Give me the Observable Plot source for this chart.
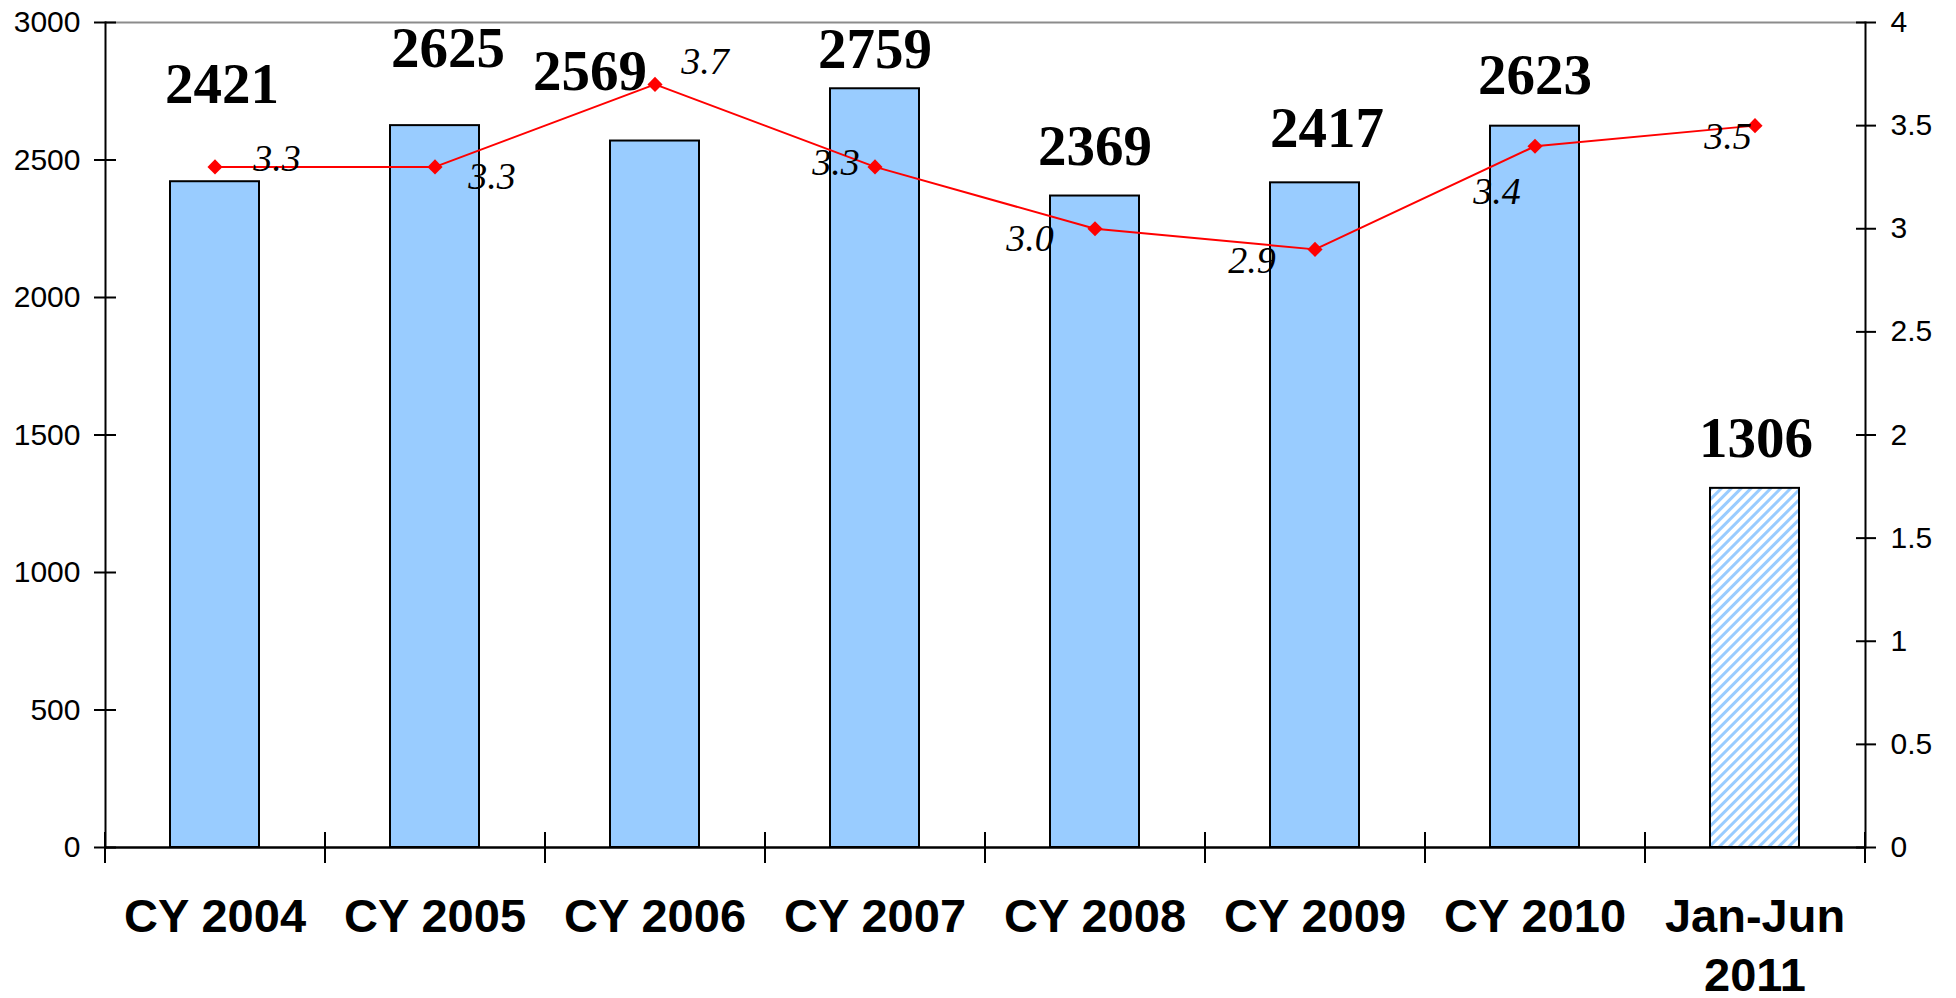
<!DOCTYPE html>
<html>
<head>
<meta charset="utf-8">
<script src="https://cdn.jsdelivr.net/npm/d3@7"></script>
<script src="https://cdn.jsdelivr.net/npm/@observablehq/plot@0.6"></script>
<style>
  html, body { margin: 0; padding: 0; background: #fff; }
  #chart { width: 1956px; height: 998px; }
</style>
</head>
<body>
<div id="chart"></div>
<script>
// ---- data ----
const categories = ["CY 2004", "CY 2005", "CY 2006", "CY 2007", "CY 2008", "CY 2009", "CY 2010", "Jan-Jun\n2011"];
const counts = [2421, 2625, 2569, 2759, 2369, 2417, 2623, 1306];
const rates = [3.3, 3.3, 3.7, 3.3, 3.0, 2.9, 3.4, 3.5];
const rateLabels = ["3.3", "3.3", "3.7", "3.3", "3.0", "2.9", "3.4", "3.5"];
const partialPeriod = [false, false, false, false, false, false, false, true];
const leftTicks = [0, 500, 1000, 1500, 2000, 2500, 3000];
const rightTicks = [0, 0.5, 1, 1.5, 2, 2.5, 3, 3.5, 4];

// ---- layout (label nudges in pixels, as placed in the original) ----
const countNudge = [[7, -79], [13, -59], [-65, -51], [0, -21], [0, -31], [12, -36], [0, -32], [1, -31]];
const rateNudge = [[62, -8], [57, 10], [50, -23], [-39, -4], [-65, 10], [-63, 11], [-38, 46], [-27, 11]];

const leftMax = 3000, rightMax = 4;
const k = leftMax / rightMax; // right-axis value -> left-axis units

const rows = categories.map((cat, i) => ({
  cat, count: counts[i], rate: rates[i], rateLabel: rateLabels[i], partial: partialPeriod[i]
}));

const serif = "'Liberation Serif', 'Times New Roman', serif";
const sans = "'Liberation Sans', Arial, sans-serif";

const marks = [
  Plot.ruleY([leftMax], {stroke: "#8c8c8c", strokeWidth: 2}),
  Plot.barY(rows.filter(d => !d.partial), {x: "cat", y: "count", fill: "#99CCFF", stroke: "#000", strokeWidth: 2}),
  Plot.barY(rows.filter(d => d.partial), {x: "cat", y: "count", fill: "url(#hatch)", stroke: "#000", strokeWidth: 2}),
  Plot.ruleY([0], {stroke: "#000", strokeWidth: 2.5}),
  Plot.frame({anchor: "left", stroke: "#000", strokeWidth: 2}),
  Plot.frame({anchor: "right", stroke: "#000", strokeWidth: 2}),
  // left axis
  Plot.axisY(leftTicks, {anchor: "left", label: null, tickSize: 22, dx: 11, tickPadding: 14, tickFormat: d => String(d),
    fontSize: 30, fontFamily: sans, stroke: "#000", strokeWidth: 2, fill: "#000"}),
  // right axis (rate values mapped onto left units)
  Plot.axisY(rightTicks.map(v => v * k), {anchor: "right", label: null, tickSize: 20, dx: -10, tickPadding: 15,
    tickFormat: v => String(+(v / k).toFixed(2)), fontSize: 30, fontFamily: sans, stroke: "#000", strokeWidth: 2, fill: "#000"}),
  // category boundary ticks
  Plot.axisX(categories, {anchor: "bottom", label: null, tickSize: 31, dx: -110, dy: -15, tickFormat: () => "", stroke: "#000", strokeWidth: 2}),
  Plot.axisX([categories[categories.length - 1]], {anchor: "bottom", label: null, tickSize: 31, dx: 110, dy: -15, tickFormat: () => "", stroke: "#000", strokeWidth: 2}),
  // category labels
  Plot.text(rows, {x: "cat", text: "cat", frameAnchor: "bottom", lineAnchor: "top", dy: 42, lineHeight: 1.26,
    fontSize: 47, fontWeight: "bold", fontFamily: sans, fill: "#000"}),
  // rate line
  Plot.line(rows, {x: "cat", y: d => d.rate * k, stroke: "#FF0000", strokeWidth: 2}),
  Plot.dot(rows, {x: "cat", y: d => d.rate * k, symbol: "diamond2", r: 6.8, fill: "#FF0000", stroke: "none"})
];

rows.forEach((d, i) => {
  marks.push(Plot.text([d], {x: "cat", y: "count", text: r => String(r.count), dx: countNudge[i][0], dy: countNudge[i][1],
    lineAnchor: "bottom", fontSize: 57, fontWeight: "bold", fontFamily: serif, fill: "#000"}));
  marks.push(Plot.text([d], {x: "cat", y: r => r.rate * k, text: "rateLabel", dx: rateNudge[i][0], dy: rateNudge[i][1],
    lineAnchor: "middle", fontSize: 38, fontStyle: "italic", fontFamily: serif, fill: "#000"}));
});

const svg = Plot.plot({
  width: 1956,
  height: 998,
  marginLeft: 105,
  marginRight: 91,
  marginTop: 22,
  marginBottom: 151,
  x: {domain: categories, paddingInner: 0.595, paddingOuter: 0.2975, axis: null, label: null},
  y: {domain: [0, leftMax], axis: null, label: null},
  style: {background: "#fff", color: "#000", fontFamily: sans, fontSize: "30px", overflow: "visible"},
  marks
});

d3.select(svg).insert("defs", ":first-child").html(
  `<pattern id="hatch" patternUnits="userSpaceOnUse" width="7" height="7" patternTransform="rotate(45)">
     <rect width="7" height="7" fill="#fff"></rect>
     <line x1="1.5" y1="0" x2="1.5" y2="7" stroke="#99CCFF" stroke-width="3"></line>
   </pattern>`
);

document.getElementById("chart").appendChild(svg);
</script>
</body>
</html>
